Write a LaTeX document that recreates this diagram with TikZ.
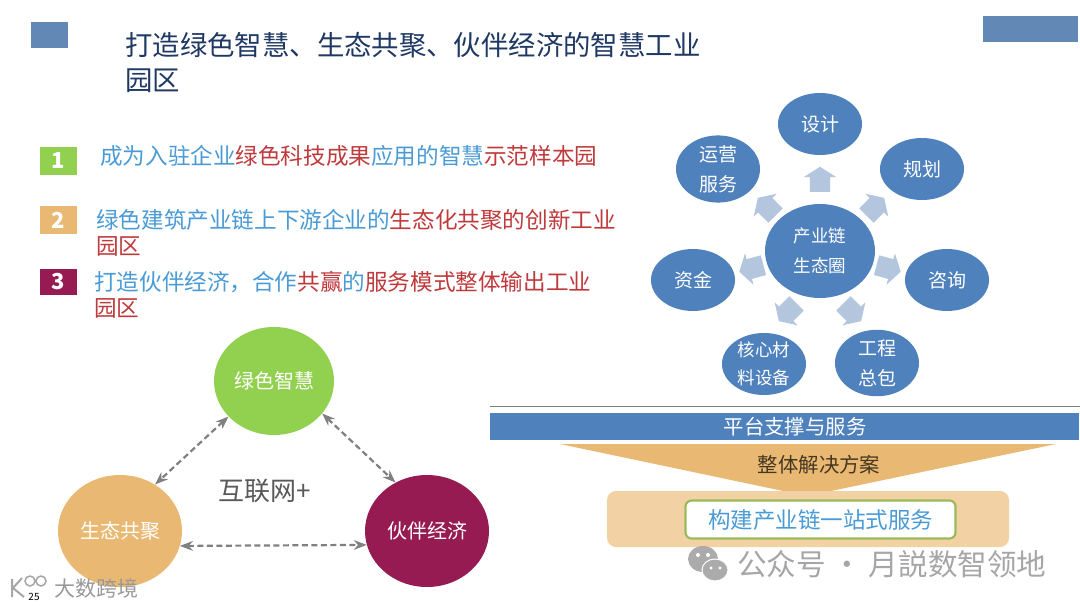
\documentclass[tikz,border=0pt]{standalone}
\usepackage{fontspec}
\setmainfont{Noto Sans CJK SC}
\usetikzlibrary{shapes.geometric,shapes.arrows,arrows.meta,positioning}

\definecolor{slateblue}{HTML}{6289B5}
\definecolor{titleblue}{HTML}{1F3864}
\definecolor{ovalblue}{HTML}{4F81BD}
\definecolor{arrowblue}{HTML}{B4C5DE}
\definecolor{textblue}{HTML}{4A9BD5}
\definecolor{textred}{HTML}{C0393B}
\definecolor{leafgreen}{HTML}{92D050}
\definecolor{sandorange}{HTML}{E9B872}
\definecolor{palesand}{HTML}{F2D2A5}
\definecolor{plum}{HTML}{951B52}
\definecolor{framegreen}{HTML}{9BBB59}

\newcommand{\bl}[1]{\textcolor{textblue}{#1}}
\newcommand{\rd}[1]{\textcolor{textred}{#1}}

\begin{document}
\begin{tikzpicture}[
	x=1pt, y=-1pt,
	>=Stealth,
	oval/.style={ellipse, fill=ovalblue, text=white, minimum width=84pt, minimum height=62pt, inner sep=0pt, align=center, font=\fontsize{19}{30}\selectfont},
	hub/.style={oval, minimum width=110pt, minimum height=94pt, font=\fontsize{17.5}{30}\selectfont},
	spoke/.style={single arrow, fill=arrowblue, text height=20pt, text depth=0pt, text width=8pt, minimum width=32pt, minimum height=25pt, single arrow head extend=6pt, single arrow tip angle=115, inner sep=0pt},
	badge/.style={rectangle, minimum width=37pt, minimum height=28pt, inner sep=0pt, text=white, font=\fontsize{22}{22}\selectfont\bfseries},
	item/.style={anchor=north west, inner sep=0pt, align=left, font=\fontsize{22.6}{26.5}\selectfont},
	pillar/.style={ellipse, text=white, minimum width=124pt, minimum height=112pt, inner sep=0pt, font=\fontsize{20}{24}\selectfont},
	link/.style={<->, gray, line width=2.2pt, dash pattern=on 6pt off 3.5pt}
]

% --- Page ---
\path[use as bounding box, fill=white] (0,0) rectangle (1080,608);
\fill[slateblue] (31,22) rectangle (68,48);
\fill[slateblue] (983,16) rectangle (1078,42);

% --- Title ---
\node[anchor=north west, inner sep=0pt, align=left, text=titleblue, font=\fontsize{27.4}{35}\selectfont] (title) at (125,32.5) {打造绿色智慧、生态共聚、伙伴经济的智慧工业\\园区};

% --- List ---
\node[badge, fill=leafgreen] (one) at (58.5,161) {1};
\node[badge, fill=sandorange] (two) at (58.5,220) {2};
\node[badge, fill=plum, minimum height=26pt] (three) at (58.5,282) {3};
\node[item] (itemone) at (100,145) {\bl{成为入驻企业}\rd{绿色科技成果}\bl{应用的智慧}\rd{示范样本园}};
\node[item] (itemtwo) at (96,209) {\bl{绿色建筑产业链上下游企业的}\rd{生态化共聚的创新工业}\\\rd{园区}};
\node[item] (itemthree) at (94,271) {\bl{打造伙伴经济，合作}\rd{共赢}\bl{的}\rd{服务模式整体输出工业}\\\rd{园区}};

% --- Triangle ---
\node[pillar, fill=leafgreen, minimum width=120pt, minimum height=108pt] (green) at (274,381) {绿色智慧};
\node[pillar, fill=sandorange] (cluster) at (120,531) {生态共聚};
\node[pillar, fill=plum] (partner) at (427,531) {伙伴经济};
\node[text=black!65, inner sep=0pt, font=\fontsize{26}{30}\selectfont] (internet) at (265,491) {互联网+};
\draw[link] (green.218) -- (cluster.53);
\draw[link] (green.-34) -- (partner.123);
\draw[link] (cluster.-14) -- (partner.193);

% --- Ring ---
\node[hub] (chain) at (820,251) {产业链\\生态圈};
\node[oval] (design) at (820,124) {设计};
\node[oval] (plan) at (922,169) {规划};
\node[oval] (consult) at (947,280) {咨询};
\node[oval] (contract) at (877,363) {工程\\总包};
\node[oval, font=\fontsize{17.5}{27.5}\selectfont] (material) at (764,364) {核心材\\料设备};
\node[oval] (fund) at (693,280) {资金};
\node[oval] (operate) at (718,169) {运营\\服务};
\node[spoke, rotate=90] (sa) at (820,182.5) {};
\node[spoke, rotate=45] (sb) at (873,209) {};
\node[spoke, rotate=-15] (sc) at (885.5,267.6) {};
\node[spoke, rotate=-45] (sd) at (850,310) {};
\node[spoke, rotate=225] (se) at (790,310) {};
\node[spoke, rotate=195] (sf) at (754.5,267.6) {};
\node[spoke, rotate=135] (sg) at (769,209) {};

% --- Platform ---
\draw[gray, line width=1pt] (490,406) -- (1080,406);
\node[rectangle, fill=ovalblue, text=white, minimum width=589pt, minimum height=27pt, inner sep=0pt, font=\fontsize{20.4}{24}\selectfont] (platform) at (784.5,426.5) {\hspace*{21pt}平台支撑与服务};
\fill[sandorange] (560,444) -- (1056,444) -- (807,496) -- cycle;
\node[text=black!70!sandorange, inner sep=0pt, font=\fontsize{20.4}{24}\selectfont] (whole) at (819,465) {整体解决方案};
\node[rectangle, rounded corners=9pt, fill=palesand, minimum width=402pt, minimum height=56pt, inner sep=0pt] (band) at (808,519) {};
\node[rectangle, rounded corners=6pt, draw=framegreen, fill=white, line width=2.2pt, minimum width=270pt, minimum height=38pt, inner sep=0pt, text=textblue, font=\fontsize{22.5}{26}\selectfont] (oneStop) at (820.5,519.5) {构建产业链一站式服务};

% --- Marks ---
\fill[black!33] (703,559) ellipse (15pt and 13pt);
\fill[black!33, draw=white, line width=1pt] (715,570) ellipse (13pt and 11pt);
\fill[white] (698,555) circle (2pt) (708,555) circle (2pt) (711,568) circle (1.6pt) (720,568) circle (1.6pt);
\node[text=black!35, inner sep=0pt, anchor=west, font=\fontsize{29.6}{32}\selectfont] (account) at (737,564) {公众号 · 月説数智领地};
\draw[black!35, line width=1.5pt] (30,581) circle (5pt) (41,581) circle (5pt);
\draw[black!35, line width=2pt] (12,579) -- (12,597) (13,588) -- (22,578) (13,588) -- (24,597);
\node[text=black!40, inner sep=0pt, anchor=west, font=\fontsize{21}{24}\selectfont] (brand) at (54,588) {大数跨境};
\node[inner sep=0pt, font=\fontsize{10}{12}\selectfont] (page) at (34,597) {25};

\end{tikzpicture}
\end{document}
